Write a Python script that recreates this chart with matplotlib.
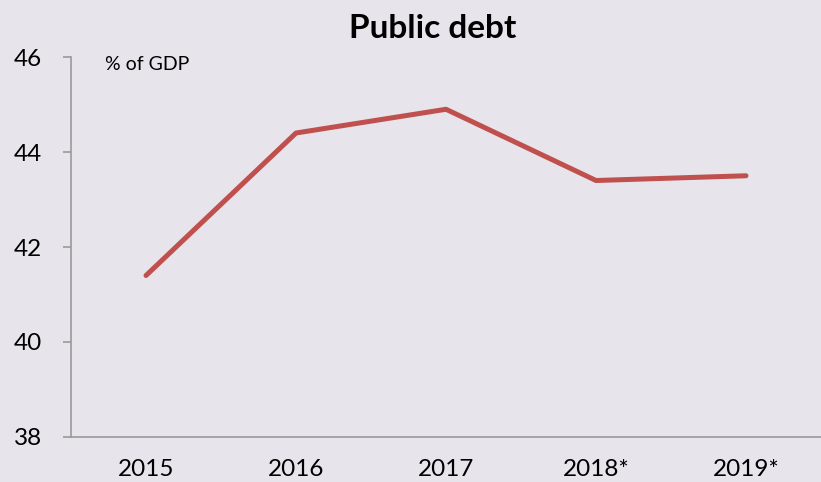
import matplotlib.pyplot as plt

years = ['2015', '2016', '2017', '2018*', '2019*']
debt = [41.4, 44.4, 44.9, 43.4, 43.5]
y_ticks = [38, 40, 42, 44, 46]

bg = '#E7E4EB'
plt.rcParams['font.family'] = ['Lato', 'DejaVu Sans']

fig = plt.figure(figsize=(8.21, 4.82), dpi=100, facecolor=bg)
ax = fig.add_axes([0.0865, 0.0934, 0.9135, 0.7883], facecolor=bg)

x = list(range(len(years)))
ax.plot(x, debt, color='#C0504D', linewidth=3.6, solid_capstyle='round', solid_joinstyle='round')

ax.set_xlim(-0.5, 4.5)
ax.set_ylim(38, 46)
ax.set_yticks(y_ticks)
ax.set_xticks(x)
ax.set_xticklabels(years)

for side in ['top', 'right']:
    ax.spines[side].set_visible(False)
for side in ['left', 'bottom']:
    ax.spines[side].set_color('#9A9A9A')
    ax.spines[side].set_linewidth(1.2)

ax.tick_params(axis='y', length=6, width=1.2, color='#9A9A9A', labelsize=17.5, pad=15)
ax.tick_params(axis='x', length=0, labelsize=17.5, pad=16)

ax.text(0.045, 0.98, '% of GDP', transform=ax.transAxes, fontsize=14, va='center', ha='left')
fig.text(0.527, 0.94, 'Public debt', fontsize=24, fontweight='bold', ha='center', va='center')

fig.savefig('out.png', dpi=100, facecolor=bg)
